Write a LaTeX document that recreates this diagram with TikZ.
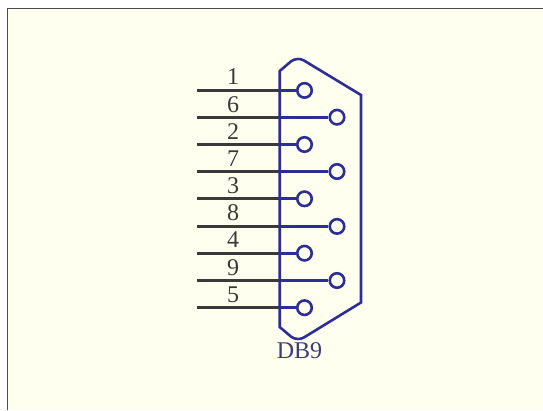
\documentclass[tikz,border=0pt]{standalone}
\usepackage{fontspec}
\setmainfont{Liberation Serif}
\definecolor{sheet}{HTML}{FFFFF0}
\definecolor{shell}{HTML}{2B2F95}
\definecolor{lead}{HTML}{3A3A3A}
\definecolor{partname}{HTML}{3C3C78}
\tikzset{
	pinhole/.style={draw=shell, line width=2.6pt, circle, inner sep=0pt, minimum size=14.5pt, fill=none},
	pinnum/.style={text=lead, inner sep=0pt, font=\fontsize{24}{24}\selectfont},
	leadline/.style={draw=lead, line width=2.9pt},
	stubline/.style={draw=shell, line width=2.9pt},
}
\begin{document}
\begin{tikzpicture}[x=1pt, y=-1pt]
	\useasboundingbox (0,0) rectangle (543,410);
	\path[fill=sheet] (8,9) rectangle (543,410);
	\path[draw=black!70, line width=1pt] (7.5,410) -- (7.5,8.5) -- (543,8.5);
	\node[pinhole] (hole1) at (304.5,90.4) {};
	\node[pinhole] (hole6) at (337,117.2) {};
	\node[pinhole] (hole2) at (304.5,144.5) {};
	\node[pinhole] (hole7) at (337,171.5) {};
	\node[pinhole] (hole3) at (304.5,198.8) {};
	\node[pinhole] (hole8) at (337,226.4) {};
	\node[pinhole] (hole4) at (304.5,253.2) {};
	\node[pinhole] (hole9) at (337,280.5) {};
	\node[pinhole] (hole5) at (304.5,307.7) {};
	\coordinate (wall1) at (280,90.4);
	\coordinate (wall6) at (280,117.2);
	\coordinate (wall2) at (280,144.5);
	\coordinate (wall7) at (280,171.5);
	\coordinate (wall3) at (280,198.8);
	\coordinate (wall8) at (280,226.4);
	\coordinate (wall4) at (280,253.2);
	\coordinate (wall9) at (280,280.5);
	\coordinate (wall5) at (280,307.7);
	\coordinate (end1) at (197,90.4);
	\coordinate (end6) at (197,117.2);
	\coordinate (end2) at (197,144.5);
	\coordinate (end7) at (197,171.5);
	\coordinate (end3) at (197,198.8);
	\coordinate (end8) at (197,226.4);
	\coordinate (end4) at (197,253.2);
	\coordinate (end9) at (197,280.5);
	\coordinate (end5) at (197,307.7);
	\path[leadline] (end1) -- (wall1);
	\path[leadline] (end6) -- (wall6);
	\path[leadline] (end2) -- (wall2);
	\path[leadline] (end7) -- (wall7);
	\path[leadline] (end3) -- (wall3);
	\path[leadline] (end8) -- (wall8);
	\path[leadline] (end4) -- (wall4);
	\path[leadline] (end9) -- (wall9);
	\path[leadline] (end5) -- (wall5);
	\path[stubline] (wall1) -- (hole1);
	\path[stubline] (wall6) -- (hole6);
	\path[stubline] (wall2) -- (hole2);
	\path[stubline] (wall7) -- (hole7);
	\path[stubline] (wall3) -- (hole3);
	\path[stubline] (wall8) -- (hole8);
	\path[stubline] (wall4) -- (hole4);
	\path[stubline] (wall9) -- (hole9);
	\path[stubline] (wall5) -- (hole5);
	\node[pinnum] (num1) at (233,77) {1};
	\node[pinnum] (num6) at (233,104.5) {6};
	\node[pinnum] (num2) at (233,131.5) {2};
	\node[pinnum] (num7) at (233,158.5) {7};
	\node[pinnum] (num3) at (233,186) {3};
	\node[pinnum] (num8) at (233,213) {8};
	\node[pinnum] (num4) at (233,240) {4};
	\node[pinnum] (num9) at (233,267.5) {9};
	\node[pinnum] (num5) at (233,295) {5};
	\path[draw=shell, line width=2.6pt, line join=miter]
		(279.7,71) [rounded corners=8pt] -- (297,56.3) [sharp corners] -- (361,95) -- (361,302.5)
		[rounded corners=8pt] -- (297,341.7) [sharp corners] -- (279.7,327) -- cycle;
	\node[pinnum, text=partname] (partlabel) at (299.5,351) {DB9};
\end{tikzpicture}
\end{document}
